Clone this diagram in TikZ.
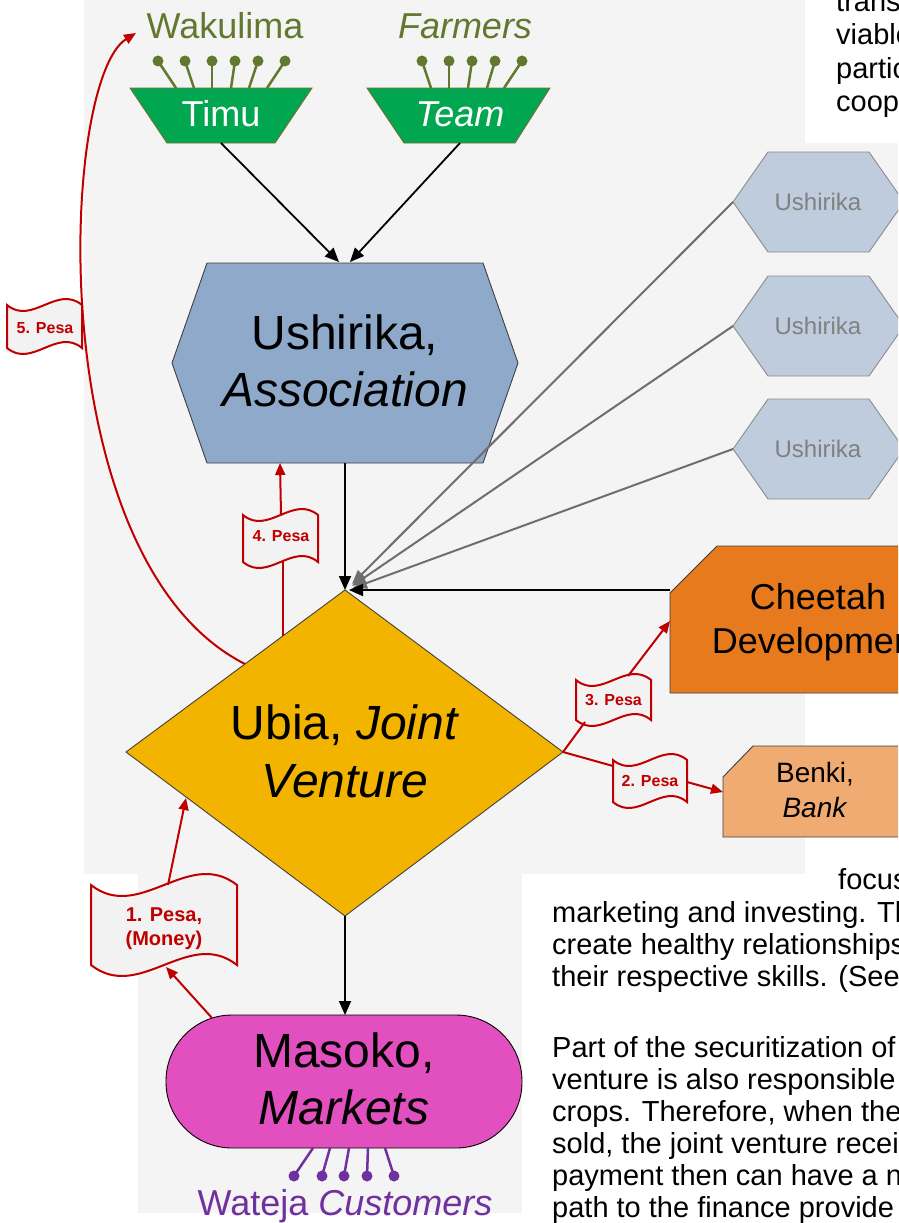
\documentclass[tikz,border=0pt]{standalone}
\usepackage{fontspec}
\setmainfont{Liberation Sans}
\usetikzlibrary{arrows.meta}
\definecolor{bgg}{HTML}{F4F4F4}
\definecolor{oliveC}{HTML}{62782E}
\definecolor{grnC}{HTML}{00A650}
\definecolor{grnB}{HTML}{7A6E32}
\definecolor{redC}{HTML}{C00000}
\definecolor{purC}{HTML}{7030A0}
\definecolor{ushC}{HTML}{8EA9C9}
\definecolor{ushL}{HTML}{BFCCDD}
\definecolor{goldC}{HTML}{F3B400}
\definecolor{magC}{HTML}{E24FBF}
\definecolor{orgC}{HTML}{E87A1E}
\definecolor{bnkC}{HTML}{F0AB72}
\definecolor{flagC}{HTML}{F2F2F2}
\definecolor{grayL}{HTML}{6E6E6E}
\definecolor{grayT}{HTML}{808080}
\newcommand\moneyflag[5]{%
  \draw[flagline] ({#1-#3},{#2-#4}) .. controls ({#1-#3/3},{#2-#4+3.46*#5}) and ({#1+#3/3},{#2-#4-3.46*#5}) .. ({#1+#3},{#2-#4})
    -- ({#1+#3},{#2+#4}) .. controls ({#1+#3/3},{#2+#4-3.46*#5}) and ({#1-#3/3},{#2+#4+3.46*#5}) .. ({#1-#3},{#2+#4}) -- cycle;}
\begin{document}
\begin{tikzpicture}[x=1pt,y=-1pt,
  bodytext/.style={font=\fontsize{29}{32}\selectfont, inner sep=0pt, anchor=base west},
  shapeline/.style={draw=black!75, line width=0.9pt},
  flagline/.style={draw=redC, fill=flagC, line width=2pt},
  flagtext/.style={text=redC, font=\bfseries\fontsize{16}{19}\selectfont, align=center, inner sep=0pt},
  bigtext/.style={font=\fontsize{48}{57}\selectfont, align=center, inner sep=0pt},
  redline/.style={draw=redC, line width=2pt},
  redarrow/.style={redline, -{Triangle[length=12pt,width=10pt]}},
  blackarrow/.style={draw=black, line width=1.8pt, -{Triangle[length=14pt,width=12pt]}},
  grayarrow/.style={draw=grayL, line width=2pt, -{Triangle[length=14pt,width=11pt]}},
  pinline/.style={line width=2.5pt},
]
\useasboundingbox (0,0) rectangle (898,1223);
\clip (0,0) rectangle (898,1223);
% backgrounds
\fill[white] (0,0) rectangle (898,1223);
\fill[bgg] (84,0) rectangle (805,874);
\fill[bgg] (805,143) rectangle (898,600);
\fill[bgg] (138,874) rectangle (522,1213);

% body text
\node[bodytext] (t1) at (836,12) {trans};
\node[bodytext] (t2) at (836,45) {viable};
\node[bodytext] (t3) at (836,78) {partic};
\node[bodytext] (t4) at (836,111) {coop};
\node[bodytext] (t5) at (838,889) {focus};
\node[bodytext] (t6) at (552,922) {marketing and investing. Th};
\node[bodytext] (t7) at (552,954) {create healthy relationships};
\node[bodytext] (t8) at (552,986) {their respective skills. (See};
\node[bodytext] (t9) at (552,1057) {Part of the securitization of};
\node[bodytext] (t10) at (552,1089) {venture is also responsible};
\node[bodytext] (t11) at (552,1121) {crops. Therefore, when the};
\node[bodytext] (t12) at (552,1153) {sold, the joint venture recei};
\node[bodytext] (t13) at (552,1185) {payment then can have a n};
\node[bodytext] (t14) at (552,1217) {path to the finance provide};

% farmers
\node[text=oliveC, font=\fontsize{36}{40}\selectfont, anchor=base, inner sep=0pt] (wak) at (225,39) {Wakulima};
\node[text=oliveC, font=\fontsize{36}{40}\selectfont\itshape, anchor=base, inner sep=0pt] (farm) at (465,39) {Farmers};
\foreach \a/\b in {158/176,185/194,212/212,235/231,258/249,285/267,422/431,449/449,472/468,495/487,522/504}{
  \draw[oliveC, pinline] (\a,61) -- (\b,88);
  \fill[oliveC] (\a,61) circle (5.5);
}
\fill[grnC, draw=grnB, line width=0.9pt] (130,88) -- (312,88) -- (275,143) -- (167,143) -- cycle;
\fill[grnC, draw=grnB, line width=0.9pt] (367,88) -- (550,88) -- (515,143) -- (404,143) -- cycle;
\node[text=white, font=\fontsize{36}{40}\selectfont, inner sep=0pt] (timu) at (221,114) {Timu};
\node[text=white, font=\fontsize{36}{40}\selectfont\itshape, inner sep=0pt] (team) at (460,114) {Team};

% association hexagon
\filldraw[fill=ushC, shapeline] (172,363) -- (207,263) -- (483,263) -- (518,363) -- (483,463) -- (207,463) -- cycle;
\node[bigtext] (ush) at (345,361) {Ushirika,\\\textit{Association}};

% small hexagons
\foreach \cy/\nm in {202/ha,326/hb,449/hc}{
  \filldraw[fill=ushL, draw=black!45, line width=0.9pt] (733,\cy) -- (768,{\cy-50}) -- (869,{\cy-50}) -- (904,\cy) -- (869,{\cy+50}) -- (768,{\cy+50}) -- cycle;
  \node[text=grayT, font=\fontsize{24}{28}\selectfont, inner sep=0pt] (\nm) at (818,\cy) {Ushirika};
}

% cheetah and bank
\filldraw[fill=orgC, shapeline] (670,593) -- (717,546) -- (960,546) -- (960,693) -- (670,693) -- cycle;
\node[font=\fontsize{36}{44}\selectfont, align=center, inner sep=0pt] (chee) at (818,622) {Cheetah\\Development};
\filldraw[fill=bnkC, shapeline] (723,777) -- (753,746) -- (960,746) -- (960,837) -- (723,837) -- cycle;
\node[font=\fontsize{28}{35}\selectfont, align=center, inner sep=0pt] (benki) at (815,790) {Benki,\\\textit{Bank}};

% diamond
\filldraw[fill=goldC, shapeline] (345,590) -- (563,752) -- (345,916) -- (126,752) -- cycle;
\node[font=\fontsize{48}{58}\selectfont, align=center, inner sep=0pt] (ubia) at (345,751) {Ubia, \textit{Joint}\\\textit{Venture}};

% markets
\filldraw[fill=magC, draw=black, line width=0.9pt, rounded corners=66pt] (166,1015) rectangle (522,1148);
\node[bigtext] (mas) at (344,1079) {Masoko,\\\textit{Markets}};
\foreach \a/\b in {294/313,322/330,344/349,367/368,394/385}{
  \draw[purC, pinline] (\a,1176) -- (\b,1148);
  \fill[purC] (\a,1176) circle (5.5);
}
\node[text=purC, font=\fontsize{36}{40}\selectfont, anchor=base, inner sep=0pt] (wat) at (345,1215) {Wateja \textit{Customers}};

% connector coordinates
\coordinate (timuB) at (221,143);
\coordinate (teamB) at (460,143);
\coordinate (ushT1) at (339,262);
\coordinate (ushT2) at (350,262);
\coordinate (ushB) at (345,463);
\coordinate (dT) at (345,590);
\coordinate (dTr) at (349,590);
\coordinate (chL) at (670,590);
\coordinate (dB) at (345,916);
\coordinate (masT) at (345,1015);
\coordinate (haL) at (733,202);
\coordinate (hbL) at (733,326);
\coordinate (hcL) at (733,449);
\coordinate (dTa) at (352,584);
\coordinate (dTb) at (352,586);
\coordinate (dTc) at (353,588);

% gray lines
\draw[grayarrow] (haL) -- (dTa);
\draw[grayarrow] (hbL) -- (dTb);
\draw[grayarrow] (hcL) -- (dTc);
% black arrows
\draw[blackarrow] (timuB) -- (ushT1);
\draw[blackarrow] (teamB) -- (ushT2);
\draw[blackarrow] (ushB) -- (dT);
\draw[blackarrow] (chL) -- (dTr);
\draw[blackarrow] (dB) -- (masT);

% money flags
\moneyflag{164}{925}{73}{40}{11}
\node[flagtext, font=\bfseries\fontsize{20}{24}\selectfont] (p1) at (164,929) {1. Pesa,\\(Money)};
\moneyflag{650}{781}{37}{21}{6}
\node[flagtext] (p2) at (650,781) {2. Pesa};
\moneyflag{613.5}{700}{37.5}{20}{6}
\node[flagtext] (p3) at (613.5,700) {3. Pesa};
\moneyflag{280.5}{538.5}{37.5}{23.5}{6}
\node[flagtext] (p4) at (281,536) {4. Pesa};
\moneyflag{44.5}{326.5}{37.5}{21.5}{6}
\node[flagtext] (p5) at (45,328) {5. Pesa};

\coordinate (m1) at (212,1018);
\coordinate (f1B) at (166,967);
\coordinate (f1T) at (168,885);
\coordinate (d1) at (186,798);
\coordinate (dR) at (563,752);
\coordinate (f2L) at (613,766);
\coordinate (f2R) at (687,782);
\coordinate (bnkL) at (723,792);
\coordinate (f3B) at (585,722);
\coordinate (f3T) at (628,676);
\coordinate (cheL) at (670,621);
\coordinate (d4) at (283,636);
\coordinate (f4B) at (283,562);
\coordinate (f4T) at (281,514);
\coordinate (ushB4) at (280,463);
\coordinate (d5) at (245,664);
\coordinate (wakA) at (136,33);

\draw[redarrow] (m1) -- (f1B);
\draw[redarrow] (f1T) -- (d1);
\draw[redline] (dR) -- (f2L);
\draw[redarrow] (f2R) -- (bnkL);
\draw[redline] (dR) -- (f3B);
\draw[redarrow] (f3T) -- (cheL);
\draw[redline] (d4) -- (f4B);
\draw[redarrow] (f4T) -- (ushB4);
\draw[redarrow] (d5) .. controls (40,560) and (60,80) .. (wakA);
\end{tikzpicture}
\end{document}
